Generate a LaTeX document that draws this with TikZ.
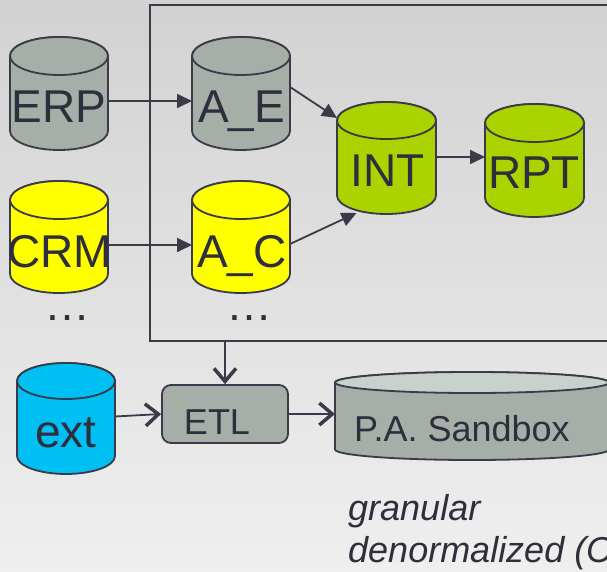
\documentclass[tikz,border=0pt]{standalone}
\usepackage{fontspec}
\setmainfont{Liberation Sans}
\usetikzlibrary{arrows.meta}

\definecolor{ink}{RGB}{46,46,60}
\definecolor{edge}{RGB}{58,58,72}
\definecolor{dbgray}{RGB}{166,174,168}
\definecolor{dbgraytop}{RGB}{201,209,205}
\definecolor{dbyellow}{RGB}{255,255,0}
\definecolor{dbgreen}{RGB}{170,211,0}
\definecolor{dbcyan}{RGB}{0,191,243}
\definecolor{bgtop}{RGB}{210,210,210}
\definecolor{bgbot}{RGB}{239,239,239}

% cylinder: name, left x, right x, top y, bottom y, ellipse half-height, body fill, top fill
\newcommand{\dbcyl}[8]{%
  \pgfmathsetmacro\cylcx{(#2+#3)/2}%
  \pgfmathsetmacro\cylrx{(#3-#2)/2}%
  \pgfmathsetmacro\cylyt{-(#4)-(#6)}%
  \pgfmathsetmacro\cylyb{-(#5)+(#6)}%
  \filldraw[cylline, fill=#7] (#2,\cylyt) -- (#2,\cylyb)
    arc[start angle=180, end angle=360, x radius=\cylrx pt, y radius=#6 pt]
    -- (#3,\cylyt)
    arc[start angle=0, end angle=180, x radius=\cylrx pt, y radius=#6 pt] -- cycle;
  \filldraw[cylline, fill=#8] (\cylcx,\cylyt) ellipse[x radius=\cylrx pt, y radius=#6 pt];
  \node[inner sep=0pt, outer sep=0pt, minimum width={#3-#2}, minimum height={#5-#4}]
    (#1) at ({(#2+#3)/2},{-(#4+#5)/2}) {};%
}

\tikzset{
  cylline/.style={draw=edge, line width=1.8pt},
  bigtxt/.style={anchor=base, inner sep=0pt, text=ink, font=\fontsize{46}{46}\selectfont},
  midtxt/.style={anchor=base, inner sep=0pt, text=ink, font=\fontsize{36}{36}\selectfont},
  flow/.style={draw=edge, line width=1.8pt, -{Triangle[length=15pt, width=14pt]}},
  feed/.style={draw=edge, line width=1.8pt, -{Straight Barb[length=13pt, width=22pt, line width=3.5pt]}},
}

\begin{document}
\begin{tikzpicture}[x=1pt, y=1pt]
  \useasboundingbox (0,0) rectangle (607,-572);
  \shade[top color=bgtop, bottom color=bgbot] (0,0) rectangle (607,-572);

  % staging frame
  \node[draw=edge, line width=1.8pt, inner sep=0pt, minimum width=470, minimum height=336]
    (stage) at (385,-173) {};

  % source and staging databases
  \dbcyl{erp}{10}{108}{37}{150}{19}{dbgray}{dbgray}
  \dbcyl{ae}{192}{290}{37}{150}{19}{dbgray}{dbgray}
  \dbcyl{crm}{10}{108}{181}{293}{19}{dbyellow}{dbyellow}
  \dbcyl{ac}{192}{290}{181}{293}{19}{dbyellow}{dbyellow}
  \dbcyl{int}{337}{436}{102}{214}{18.5}{dbgreen}{dbgreen}
  \dbcyl{rpt}{485}{584}{104}{217}{19}{dbgreen}{dbgreen}
  \dbcyl{ext}{17}{115}{363}{474}{18}{dbcyan}{dbcyan}
  \dbcyl{sbx}{335}{609}{372}{460}{10.5}{dbgray}{dbgraytop}

  \node[bigtxt] (erpL) at (59,-123) {ERP};
  \node[bigtxt] (aeL) at (241.5,-123) {A\_E};
  \node[bigtxt] (crmL) at (59.5,-267) {CRM};
  \node[bigtxt] (acL) at (242,-267) {A\_C};
  \node[bigtxt] (intL) at (388,-186) {INT};
  \node[bigtxt] (rptL) at (534,-188) {RPT};
  \node[bigtxt] (extL) at (66,-447) {ext};
  \node[bigtxt] (dotsA) at (67,-320) {…};
  \node[bigtxt] (dotsB) at (249,-320) {…};

  % ETL step
  \node[draw=edge, line width=1.8pt, fill=dbgray, rounded corners=9pt, inner sep=0pt,
        minimum width=126, minimum height=58] (etl) at (225,-414) {};
  \node[midtxt] (etlL) at (217,-434) {ETL};
  \node[midtxt, anchor=base west] (sbxL) at (354,-441) {P.A. Sandbox};

  % notes
  \node[midtxt, anchor=base west, font=\fontsize{36}{36}\selectfont\itshape] (noteA) at (348,-520) {granular};
  \node[midtxt, anchor=base west, font=\fontsize{36}{36}\selectfont\itshape] (noteB) at (348,-562) {denormalized (C};

  % connectors
  \draw[flow] ([yshift=-7.5pt]erp.east) -- ([yshift=-7.5pt]ae.west);
  \draw[flow] ([yshift=-8pt]crm.east) -- ([yshift=-8pt]ac.west);
  \draw[flow] ([yshift=6.5pt]ae.east) -- ([yshift=-16pt]int.north west);
  \draw[flow] ([yshift=-7pt]ac.east) -- ([xshift=-30pt,yshift=1pt]int.south);
  \draw[flow] ([yshift=1pt]int.east) -- ([yshift=3.5pt]rpt.west);
  \draw[feed] (etl.north |- stage.south) -- (etl.north);
  \draw[feed] ([yshift=2pt]ext.east) -- (etl.west);
  \draw[feed] (etl.east) -- (etl.east -| sbx.west);
\end{tikzpicture}
\end{document}
